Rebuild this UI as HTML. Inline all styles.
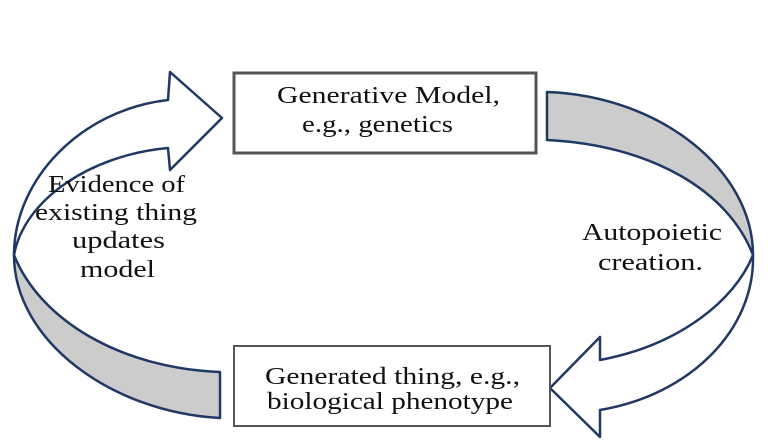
<!DOCTYPE html>
<html><head><style>
html,body{margin:0;padding:0;background:#fff;}
svg{display:block;}
text{font-family:"Liberation Serif",serif;font-size:24px;fill:#111;}
</style></head><body>
<svg width="768" height="440" viewBox="0 0 768 440" xmlns="http://www.w3.org/2000/svg">
<!-- left arrow -->
<path d="M14,255 C14,340 110,412 220,418 L220,372 C120,368 40,320 14,255 Z" fill="#cccccc" stroke="#1f3864" stroke-width="2.5" stroke-linejoin="round"/>
<path d="M14,255 C14,180 80,110 168,100 L170,72 L222,118 L170,170 L168,148 C90,155 24,200 14,255 Z" fill="#fff" stroke="#1f3864" stroke-width="2.5" stroke-linejoin="round"/>
<!-- right arrow -->
<path d="M547,92 C660,96 753,170 753,255 C728,190 650,145 547,140 Z" fill="#cccccc" stroke="#1f3864" stroke-width="2.5" stroke-linejoin="round"/>
<path d="M753,255 C755,330 690,395 600,410 L600,437 L550,388 L600,337 L600,360 C680,345 735,300 753,255 Z" fill="#fff" stroke="#1f3864" stroke-width="2.5" stroke-linejoin="round"/>
<!-- boxes -->
<rect x="234" y="73" width="302" height="80" fill="#fff" stroke="#555" stroke-width="3"/>
<rect x="234" y="346" width="316" height="80" fill="#fff" stroke="#555" stroke-width="2"/>
<text x="277" y="103" textLength="223" lengthAdjust="spacingAndGlyphs">Generative Model,</text>
<text x="302" y="132" textLength="151" lengthAdjust="spacingAndGlyphs">e.g., genetics</text>
<text x="265" y="384" textLength="255" lengthAdjust="spacingAndGlyphs">Generated thing, e.g.,</text>
<text x="267" y="409" textLength="246" lengthAdjust="spacingAndGlyphs">biological phenotype</text>
<text x="48" y="192" textLength="137" lengthAdjust="spacingAndGlyphs">Evidence of</text>
<text x="35" y="220" textLength="162" lengthAdjust="spacingAndGlyphs">existing thing</text>
<text x="72" y="248" textLength="93" lengthAdjust="spacingAndGlyphs">updates</text>
<text x="80" y="277" textLength="75" lengthAdjust="spacingAndGlyphs">model</text>
<text x="582" y="240" textLength="140" lengthAdjust="spacingAndGlyphs">Autopoietic</text>
<text x="598" y="270" textLength="105" lengthAdjust="spacingAndGlyphs">creation.</text>
</svg>
</body></html>
